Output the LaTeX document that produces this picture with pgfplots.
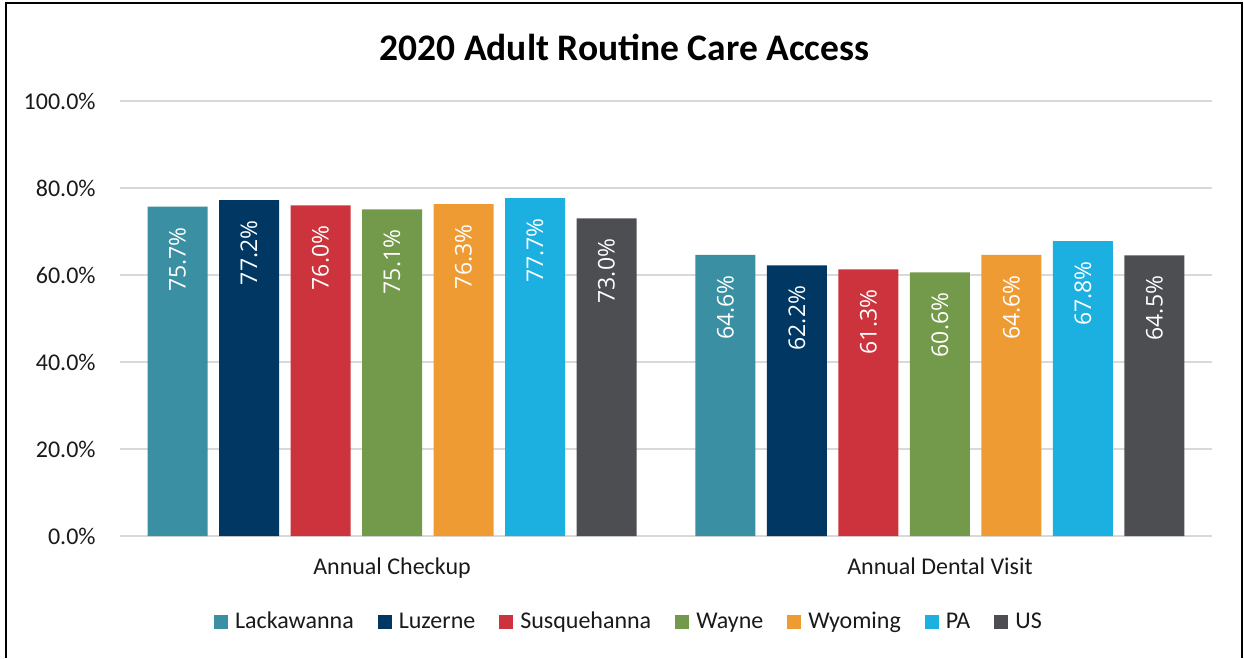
\documentclass[border=0pt]{standalone}
\usepackage{fontspec}
\setmainfont{Carlito}
\newfontfamily\labelfont{Open Sans}
\usepackage{pgfplots}
\pgfplotsset{compat=1.18}

\definecolor{lacka}{HTML}{3A90A2}
\definecolor{luzer}{HTML}{003763}
\definecolor{susq}{HTML}{CC333C}
\definecolor{wayne}{HTML}{73994A}
\definecolor{wyom}{HTML}{EF9B34}
\definecolor{pacol}{HTML}{1BB0E0}
\definecolor{uscol}{HTML}{4C4E52}
\definecolor{gridgray}{HTML}{D9D9D9}
\definecolor{textcol}{HTML}{1A1A1A}

\begin{document}
\begin{tikzpicture}
% page frame: 1 px of the reference = 0.5 bp
\path (-60bp,-60.5bp) rectangle (562bp,268bp);
\draw[line width=0.9bp] (-57bp,-61bp) -- (-57bp,266.6bp) -- (561bp,266.6bp) -- (561bp,-61bp);
\node[font=\bfseries\fontsize{18.75bp}{22bp}\selectfont] at (252.25bp,244.5bp) {2020 Adult Routine Care Access};

\begin{axis}[
    at={(0,0)}, anchor=south west,
    scale only axis, width=546bp, height=217.5bp,
    xmin=-0.4964, xmax=1.4964, ymin=0, ymax=100,
    ybar=5.75bp, bar width=30bp,
    axis lines=left, axis line style={draw=none},
    major tick length=0pt,
    ymajorgrids, grid style={draw=gridgray, line width=1bp},
    ytick={0,20,...,100},
    /pgf/number format/assume math mode=true,
    yticklabel={\pgfmathprintnumber[fixed,fixed zerofill,precision=1]{\tick}\%},
    xtick={0,1}, xticklabels={Annual Checkup,Annual Dental Visit},
    tick label style={font=\fontsize{12bp}{14bp}\selectfont, text=textcol},
    yticklabel style={anchor=east, inner sep=0pt, xshift=-12bp},
    xticklabel style={anchor=base, inner sep=0pt, yshift=-19bp},
    point meta=y,
    nodes near coords={\pgfmathprintnumber[fixed,fixed zerofill,precision=1]{\pgfplotspointmeta}\%},
    every node near coord/.append style={rotate=90, anchor=east, inner xsep=10bp, inner ysep=0pt,
        text=white, font=\labelfont\fontsize{11.5bp}{14bp}\selectfont},
    legend style={at={(0.467,-0.198)}, anchor=center, legend columns=-1, draw=none, fill=none,
        font=\fontsize{12bp}{14bp}\selectfont, text=textcol,
        nodes={inner xsep=2bp, inner ysep=0pt},
        /tikz/every odd column/.append style={column sep=1.5bp},
        /tikz/every even column/.append style={column sep=10bp}},
    legend image code/.code={\fill[#1] (0bp,-3.6bp) rectangle (7bp,3.6bp);},
]
\addplot[fill=lacka, draw=none] coordinates {(0,75.7) (1,64.6)};
\addplot[fill=luzer, draw=none] coordinates {(0,77.2) (1,62.2)};
\addplot[fill=susq, draw=none] coordinates {(0,76.0) (1,61.3)};
\addplot[fill=wayne, draw=none] coordinates {(0,75.1) (1,60.6)};
\addplot[fill=wyom, draw=none] coordinates {(0,76.3) (1,64.6)};
\addplot[fill=pacol, draw=none] coordinates {(0,77.7) (1,67.8)};
\addplot[fill=uscol, draw=none] coordinates {(0,73.0) (1,64.5)};
\legend{Lackawanna,Luzerne,Susquehanna,Wayne,Wyoming,PA,US}
\end{axis}
\end{tikzpicture}
\end{document}
